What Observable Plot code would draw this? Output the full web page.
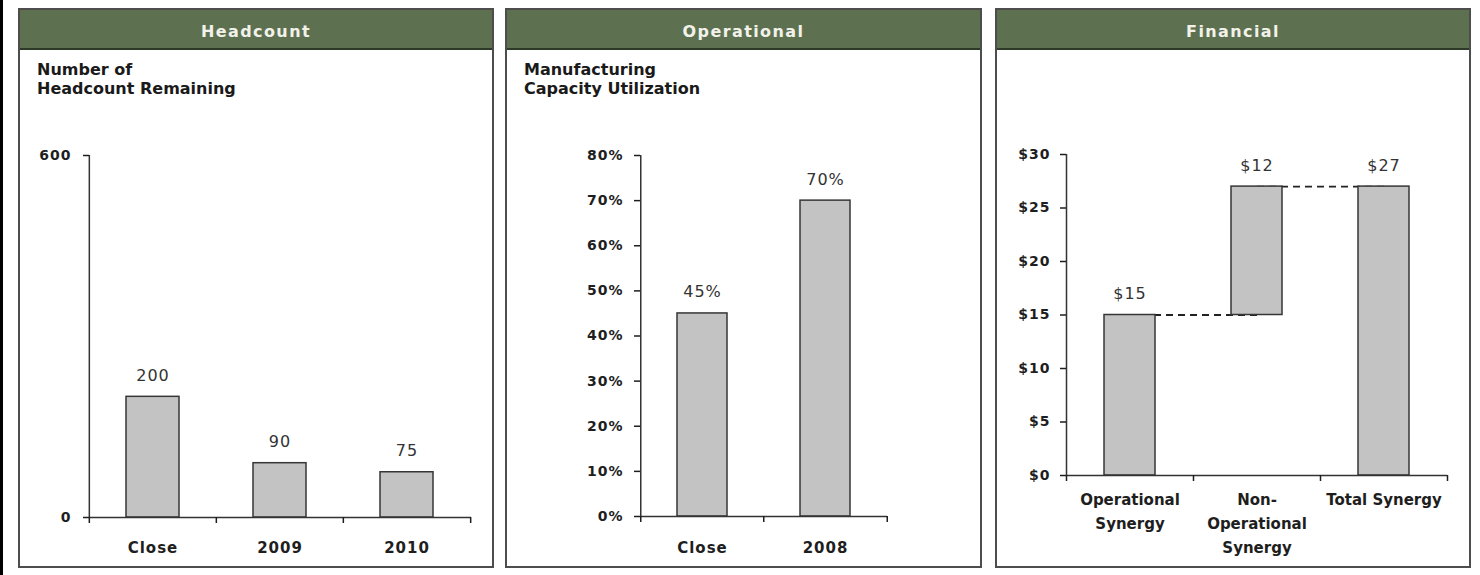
<!DOCTYPE html>
<html><head><meta charset="utf-8">
<script src="https://cdn.jsdelivr.net/npm/d3@7"></script>
<script src="https://cdn.jsdelivr.net/npm/@observablehq/plot@0.6"></script>
<style>
body{margin:0;width:1480px;height:575px;background:#fff;position:relative;overflow:hidden;font-family:"DejaVu Sans",sans-serif;}
.edge{position:absolute;left:0;top:0;width:3px;height:575px;background:#000;}
.panel{position:absolute;top:8px;height:560px;box-sizing:border-box;border:2px solid #4d4d4d;}
.hdr{position:absolute;left:0;top:0;right:0;height:40px;box-sizing:border-box;background:#5d7151;border-bottom:2px solid #2e3a28;color:#f2f2ea;font-weight:bold;font-size:16px;letter-spacing:1.4px;text-align:center;line-height:40px;padding-top:2px;}
.sub{position:absolute;left:17px;top:50px;font-weight:bold;font-size:16px;line-height:19px;color:#1a1a1a;white-space:nowrap;}
.chart{position:absolute;top:50px;height:518px;}
.chart svg text{letter-spacing:1px;}
.fin g[aria-label="x-axis tick label"] text{letter-spacing:0;}
</style>
</head>
<body>
<div class="edge"></div>
<div class="panel" style="left:18px;width:476px"><div class="hdr">Headcount</div><div class="sub">Number of<br>Headcount Remaining</div></div>
<div class="panel" style="left:505px;width:477px"><div class="hdr">Operational</div><div class="sub">Manufacturing<br>Capacity Utilization</div></div>
<div class="panel" style="left:995px;width:476px"><div class="hdr">Financial</div></div>
<div class="chart" id="c1" style="left:18px;width:476px"></div>
<div class="chart" id="c2" style="left:505px;width:477px"></div>
<div class="chart fin" id="c3" style="left:995px;width:476px"></div>
<script>
// ---- data ----
const hcCats = ["Close", "2009", "2010"];
const hcValues = [200, 90, 75];
const hcTicks = [0, 600];

const opCats = ["Close", "2008"];
const opValues = [45, 70];
const opTicks = [0, 10, 20, 30, 40, 50, 60, 70, 80];

const finCats = ["Operational Synergy", "Non-Operational Synergy", "Total Synergy"];
const finTickLabels = ["Operational\nSynergy", "Non-\nOperational\nSynergy", "Total Synergy"];
const finStart = [0, 15, 0];
const finEnd = [15, 27, 27];
const finValues = [15, 12, 27];
const finTicks = [0, 5, 10, 15, 20, 25, 30];

// ---- chart builder ----
function chart(o) {
  const H = 518;
  const step = (o.W - o.ml - o.mr) / o.cats.length;
  const marks = [
    ...(o.before || []),
    Plot.rectY(o.rows, {x: "cat", y1: "y1", y2: "y2", fill: "#c3c3c3", stroke: "#363636", strokeWidth: 1.5}),
    Plot.ruleY([0], {stroke: "#333", strokeWidth: 1.5}),
    Plot.ruleX([o.cats[0]], {dx: -step / 2, y1: o.yDomain[0], y2: o.yDomain[1], stroke: "#333", strokeWidth: 1.5}),
    Plot.axisY({ticks: o.yTicks, tickSize: 6, tickPadding: o.ytp, tickFormat: o.yFmt, fontSize: 14, fontWeight: "bold", strokeWidth: 1.5, label: null}),
    Plot.axisX({ticks: o.cats, tickSize: 6, tickFormat: () => "", dx: -step / 2, strokeWidth: 1.5, label: null}),
    Plot.axisX({ticks: [o.cats[o.cats.length - 1]], tickSize: 6, tickFormat: () => "", dx: step / 2, strokeWidth: 1.5, label: null}),
    Plot.axisX({ticks: o.cats, tickSize: 0, tickPadding: o.xtp, tickFormat: o.xFmt, fontSize: o.xfs, fontWeight: "bold", lineHeight: o.lh || 1, label: null}),
    Plot.text(o.rows, {x: "cat", y: "y2", text: "label", dy: -16, lineAnchor: "bottom", fontSize: 16, fill: "#333"})
  ];
  return Plot.plot({
    width: o.W, height: H,
    marginLeft: o.ml, marginRight: o.mr, marginTop: o.mt, marginBottom: o.mb,
    x: {type: "band", domain: o.cats, paddingInner: o.pi, paddingOuter: o.pi / 2, label: null},
    y: {domain: o.yDomain, label: null},
    style: {background: "transparent", fontFamily: "DejaVu Sans", color: "#1e1e1e", overflow: "visible"},
    marks
  });
}

const hcRows = hcCats.map((c, i) => ({cat: c, y1: 0, y2: hcValues[i], label: String(hcValues[i])}));
document.getElementById("c1").append(chart({
  cats: hcCats, rows: hcRows, yDomain: [0, 600], yTicks: hcTicks, yFmt: d => String(d), ytp: 12,
  xFmt: d => d, xtp: 25, xfs: 15,
  W: 476, ml: 71, mr: 23, mt: 105, mb: 51, pi: 0.58
}));

const opRows = opCats.map((c, i) => ({cat: c, y1: 0, y2: opValues[i], label: opValues[i] + "%"}));
document.getElementById("c2").append(chart({
  cats: opCats, rows: opRows, yDomain: [0, 80], yTicks: opTicks, yFmt: d => d + "%", ytp: 11,
  xFmt: d => d, xtp: 26, xfs: 15,
  W: 477, ml: 135, mr: 95, mt: 105, mb: 52, pi: 0.59
}));

const finRows = finCats.map((c, i) => ({cat: c, y1: finStart[i], y2: finEnd[i], label: "$" + finValues[i]}));
const finLinks = finCats.slice(0, -1).map((c, i) => ({from: c, to: finCats[i + 1], level: finEnd[i]}));
document.getElementById("c3").append(chart({
  cats: finCats, rows: finRows, yDomain: [0, 30], yTicks: finTicks, yFmt: d => "$" + d, ytp: 10,
  xFmt: d => finTickLabels[finCats.indexOf(d)], xtp: 12, xfs: 15, lh: 1.6,
  W: 476, ml: 71, mr: 24, mt: 104, mb: 93, pi: 0.6,
  before: [Plot.link(finLinks, {x1: "from", x2: "to", y1: "level", y2: "level", stroke: "#222", strokeWidth: 1.8, strokeDasharray: "7,5"})]
}));
</script>
</body></html>
